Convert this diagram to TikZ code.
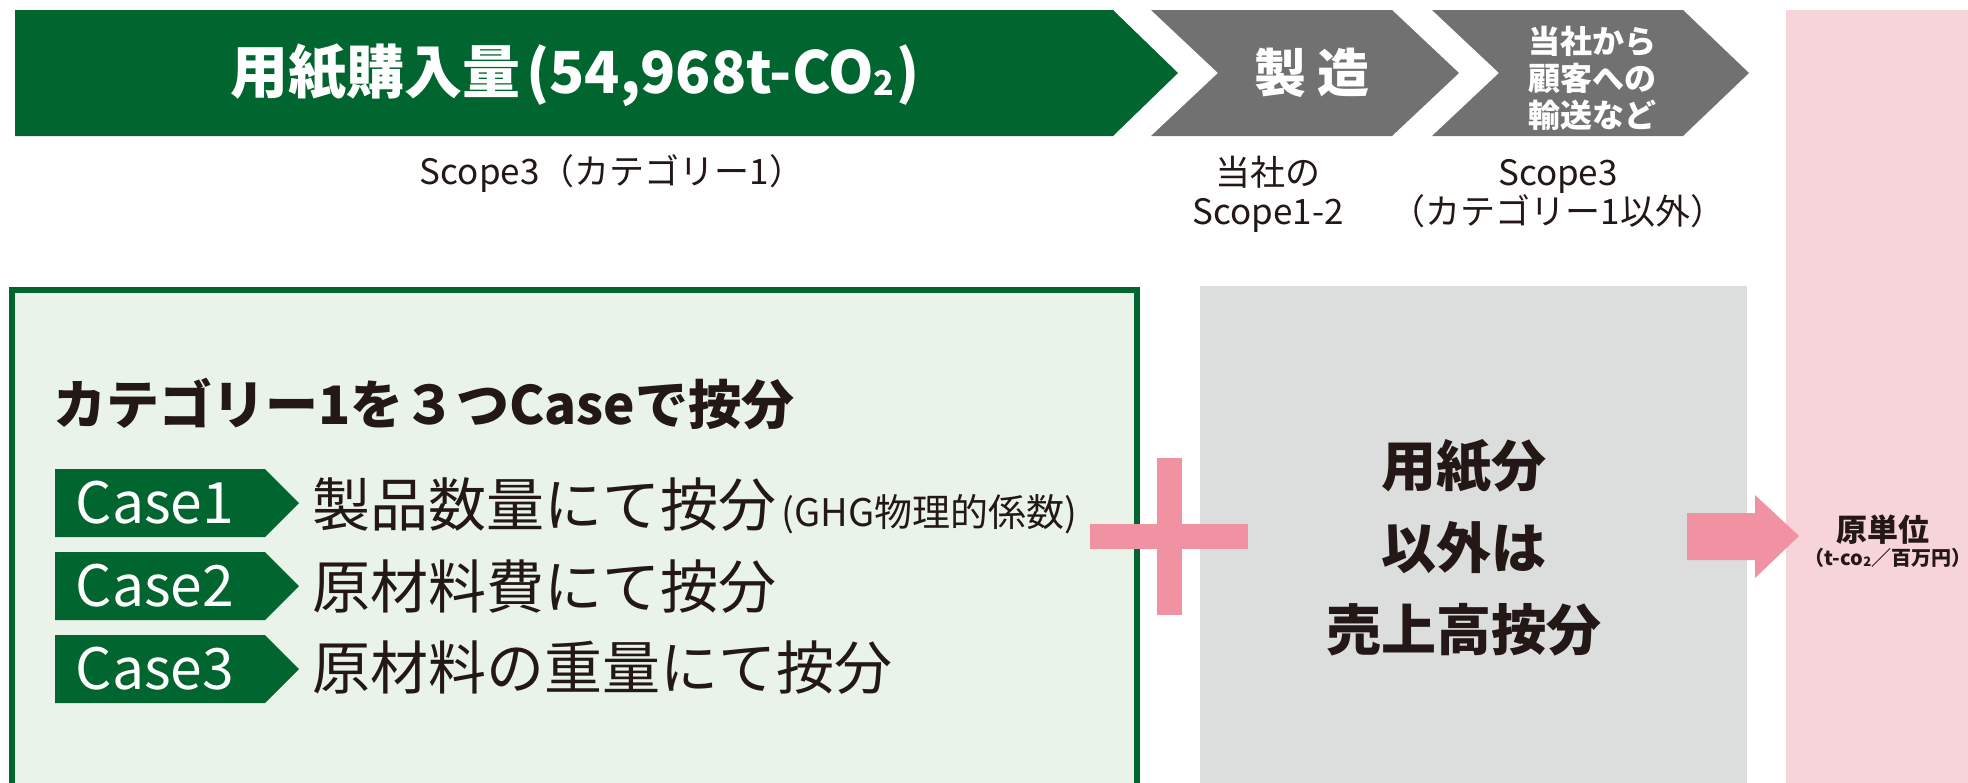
\documentclass[tikz,border=0pt]{standalone}
\usepackage{fontspec}
\setmainfont{Noto Sans CJK JP}
\definecolor{dgreen}{RGB}{0,101,46}
\definecolor{lgreen}{RGB}{233,243,234}
\definecolor{cgray}{RGB}{114,113,113}
\definecolor{boxgray}{RGB}{220,221,221}
\definecolor{pinkpanel}{RGB}{247,212,217}
\definecolor{pinkc}{RGB}{240,146,162}
\definecolor{ink}{RGB}{35,24,21}
\tikzset{
  lbl/.style={inner sep=0pt, text=ink, align=center},
  wlbl/.style={inner sep=0pt, text=white, align=center, font=\bfseries},
  casetag/.style={fill=dgreen},
}
\newcommand{\fs}[2]{\fontsize{#1}{#2}\selectfont}
\newcommand{\subtwo}[1]{\raisebox{-0.04em}{\fontsize{#1}{#1}\selectfont 2}}
\begin{document}
\begin{tikzpicture}[x=1pt,y=-1pt]
\useasboundingbox (0,0) rectangle (1968,782);
% top chevrons
\fill[dgreen] (15,10) -- (1113,10) -- (1178,73) -- (1113,136) -- (15,136) -- cycle;
\fill[cgray] (1151,10) -- (1392,10) -- (1459,73) -- (1392,136) -- (1151,136) -- (1218,73) -- cycle;
\fill[cgray] (1432,10) -- (1683,10) -- (1749,73) -- (1683,136) -- (1432,136) -- (1499,73) -- cycle;
% pink panel
\fill[pinkpanel] (1786,10) rectangle (1968,800);
% green box
\draw[dgreen, line width=6pt, fill=lgreen] (12,290) rectangle (1137,820);
% gray box
\fill[boxgray] (1200,286) rectangle (1747,800);
% plus
\fill[pinkc] (1090,524) rectangle (1248,549);
\fill[pinkc] (1157,458) rectangle (1182,615);
% arrow
\fill[pinkc] (1687,513) -- (1755,513) -- (1755,495) -- (1799,536) -- (1755,578) -- (1755,560) -- (1687,560) -- cycle;
% case tags
\fill[casetag] (55,469) -- (265,469) -- (299,503) -- (265,537) -- (55,537) -- cycle;
\fill[casetag] (55,552) -- (265,552) -- (299,586) -- (265,620) -- (55,620) -- cycle;
\fill[casetag] (55,635) -- (265,635) -- (299,669) -- (265,703) -- (55,703) -- cycle;

% texts on chevrons
\node[wlbl, font=\bfseries\fs{58}{62}] (ban) at (575,75) {用紙購入量\hspace{6pt}(54,968t-CO\subtwo{34}\hspace{2pt})};
\node[wlbl, font=\bfseries\fs{52}{56}] (mfg) at (1312,73) {製\hspace{12pt}造};
\node[wlbl, font=\bfseries\fs{32}{37}] (ship) at (1592,78) {当社から\\顧客への\\輸送など};
% labels under chevrons
\node[lbl, font=\fs{35}{38}] (s3a) at (612,174) {Scope3（カテゴリー1）};
\node[lbl, font=\fs{35}{39}] (s12) at (1268,194) {当社の\\Scope1-2};
\node[lbl, font=\fs{35}{39}] (s3b) at (1558,194) {Scope3\\（カテゴリー1以外）};
% green box texts
\node[lbl, anchor=west, font=\bfseries\fs{53}{56}] (head) at (53,404) {カテゴリー1を３つCaseで按分};
\node[wlbl, font=\mdseries\fs{57}{60}] (c1) at (155,503) {Case1};
\node[wlbl, font=\mdseries\fs{57}{60}] (c2) at (155,586) {Case2};
\node[wlbl, font=\mdseries\fs{57}{60}] (c3) at (155,669) {Case3};
\node[lbl, anchor=west, font=\fs{58}{62}] (t1) at (312,505) {製品数量にて按分};
\node[lbl, anchor=base west, font=\fs{38}{40}] (t1b) at ([xshift=5pt]t1.base east) {(GHG物理的係数)};
\node[lbl, anchor=west, font=\fs{58}{62}] (t2) at (312,587) {原材料費にて按分};
\node[lbl, anchor=west, font=\fs{58}{62}] (t3) at (312,668) {原材料の重量にて按分};
% gray box text
\node[lbl, font=\bfseries\fs{55}{82}] (other) at (1464,548) {用紙分\\以外は\\売上高按分};
% result
\node[lbl, font=\bfseries\fs{31}{34}] (unit) at (1883,530) {原単位};
\node[lbl, font=\bfseries\fs{20}{24}] (unitb) at (1888,558) {（t-co\subtwo{13}／百万円）};
\end{tikzpicture}
\end{document}
